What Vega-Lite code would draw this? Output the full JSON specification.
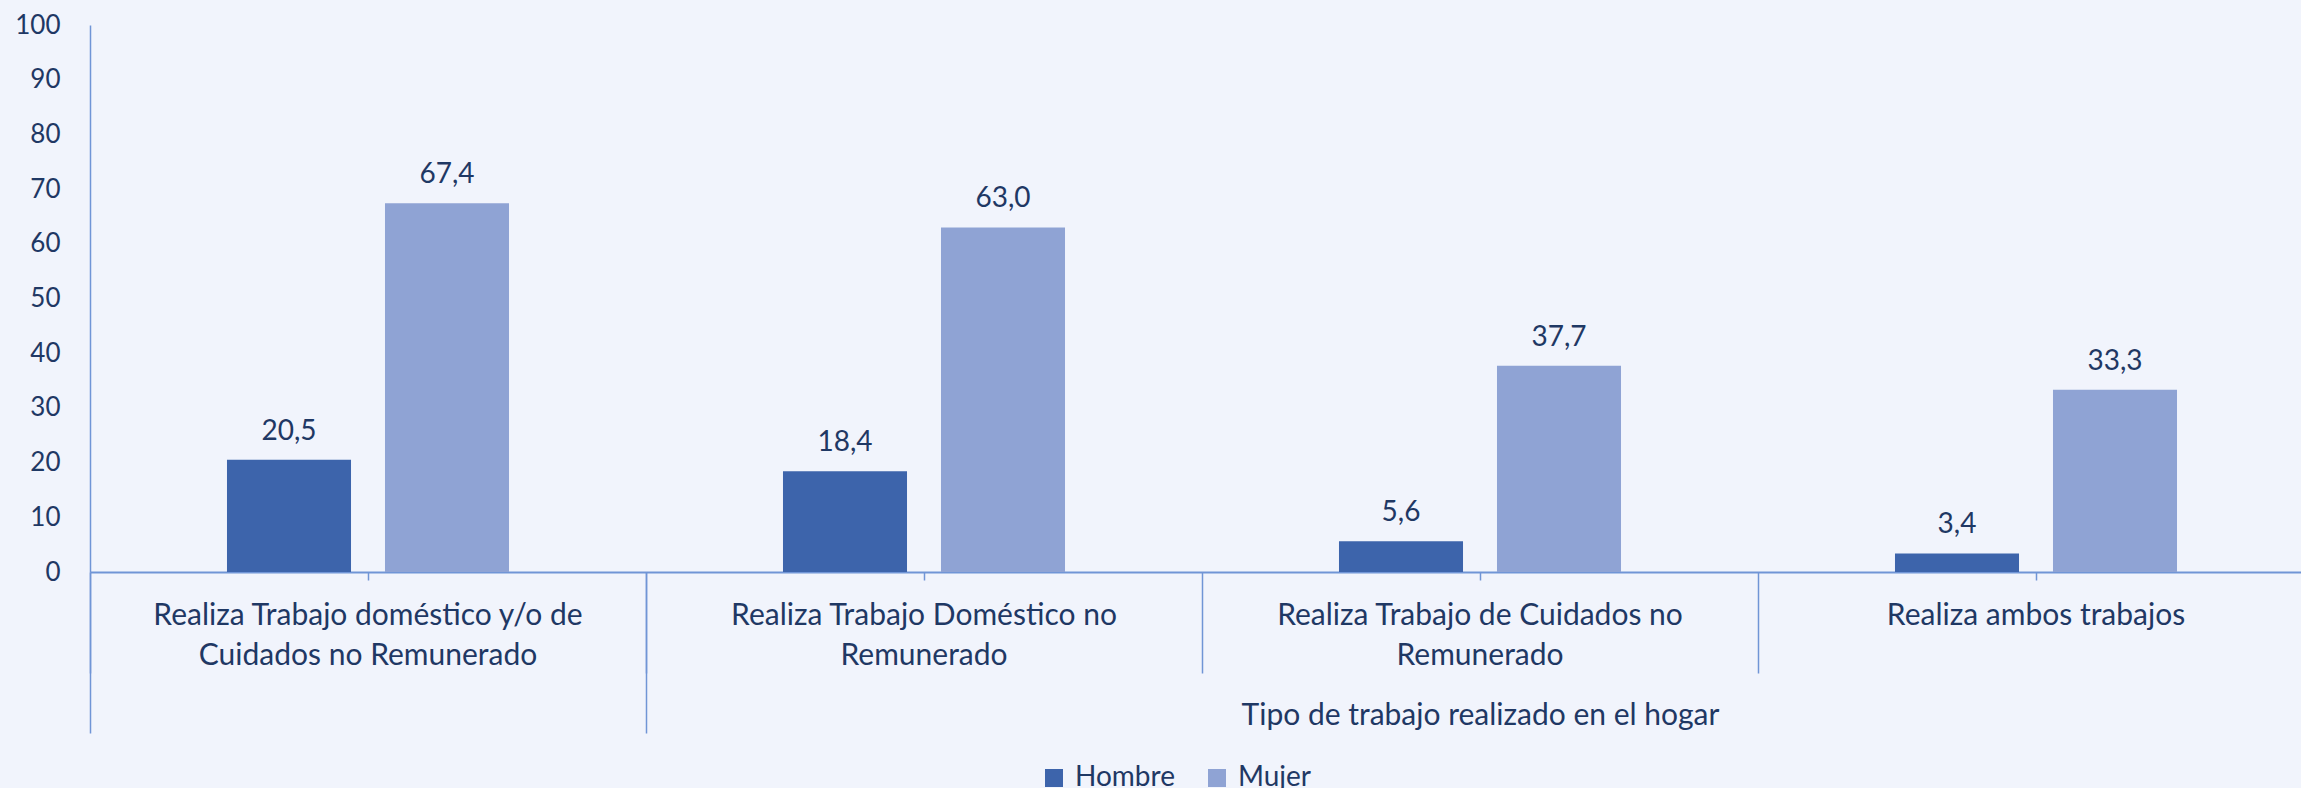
{
  "$schema": "https://vega.github.io/schema/vega-lite/v6.json",
  "width": 2211,
  "height": 547,
  "autosize": {"type": "none"},
  "padding": {"left": 90, "top": 25, "right": 0, "bottom": 216},
  "background": "#F1F4FC",
  "config": {
    "view": {"stroke": null},
    "font": "Lato",
    "locale": {"number": {"decimal": ",", "thousands": ".", "grouping": [3], "currency": ["$", ""]}}
  },
  "data": {
    "values": [
      {"tipo": "Realiza Trabajo doméstico y/o de Cuidados no Remunerado", "sexo": "Hombre", "valor": 20.5},
      {"tipo": "Realiza Trabajo doméstico y/o de Cuidados no Remunerado", "sexo": "Mujer", "valor": 67.4},
      {"tipo": "Realiza Trabajo Doméstico no Remunerado", "sexo": "Hombre", "valor": 18.4},
      {"tipo": "Realiza Trabajo Doméstico no Remunerado", "sexo": "Mujer", "valor": 63.0},
      {"tipo": "Realiza Trabajo de Cuidados no Remunerado", "sexo": "Hombre", "valor": 5.6},
      {"tipo": "Realiza Trabajo de Cuidados no Remunerado", "sexo": "Mujer", "valor": 37.7},
      {"tipo": "Realiza ambos trabajos", "sexo": "Hombre", "valor": 3.4},
      {"tipo": "Realiza ambos trabajos", "sexo": "Mujer", "valor": 33.3}
    ]
  },
  "encoding": {
    "x": {"field": "tipo", "type": "nominal", "sort": null,
      "scale": {"range": [0, 2224], "paddingInner": 0, "paddingOuter": 0}},
    "xOffset": {"field": "sexo", "type": "nominal", "sort": ["Hombre", "Mujer"],
      "scale": {"paddingInner": 0.215, "paddingOuter": 0.867}},
    "y": {"field": "valor", "type": "quantitative",
      "scale": {"domain": [0, 100], "nice": false},
      "axis": {"title": null, "grid": false, "ticks": false, "tickCount": 10,
        "domainColor": "#7095D6", "domainWidth": 1.5,
        "labelFont": "Lato", "labelFontSize": 26, "labelColor": "#1F3864", "labelPadding": 30}}
  },
  "layer": [
    {
      "mark": {"type": "bar"},
      "encoding": {
        "x": {"field": "tipo", "type": "nominal", "sort": null,
          "axis": {"orient": "bottom", "title": null, "domainColor": "#7095D6", "domainWidth": 2,
            "ticks": true, "tickSize": 8, "tickColor": "#7095D6", "tickWidth": 1.5,
            "labelAngle": 0, "labelFont": "Lato", "labelFontSize": 30, "labelColor": "#1F3864",
            "labelLimit": 0, "labelOverlap": false, "labelBound": false,
            "labelBaseline": "top", "labelLineHeight": 40, "labelPadding": 20,
            "labelExpr": "datum.value == 'Realiza Trabajo doméstico y/o de Cuidados no Remunerado' ? ['Realiza Trabajo doméstico y/o de', 'Cuidados no Remunerado'] : datum.value == 'Realiza Trabajo Doméstico no Remunerado' ? ['Realiza Trabajo Doméstico no', 'Remunerado'] : datum.value == 'Realiza Trabajo de Cuidados no Remunerado' ? ['Realiza Trabajo de Cuidados no', 'Remunerado'] : datum.value"}},
        "color": {"field": "sexo", "type": "nominal",
          "scale": {"domain": ["Hombre", "Mujer"], "range": ["#3D64AB", "#8FA3D4"]},
          "legend": {"title": null, "orient": "none", "legendX": 950, "legendY": 739,
            "direction": "horizontal", "symbolType": "square", "symbolSize": 324,
            "symbolStrokeWidth": 0, "labelFont": "Lato", "labelFontSize": 28, "labelColor": "#1F3864",
            "labelOffset": 7, "columnPadding": 28, "padding": 0}}
      }
    },
    {
      "transform": [{"filter": "datum.sexo == 'Hombre'"}],
      "mark": {"type": "text", "baseline": "alphabetic", "dy": -20, "font": "Lato", "fontSize": 28, "color": "#1F3864"},
      "encoding": {
        "x": {"field": "tipo", "type": "nominal", "sort": null,
          "axis": {"orient": "bottom", "title": null, "domain": false, "labels": false,
            "ticks": true, "tickBand": "extent", "tickSize": 101, "tickColor": "#7095D6", "tickWidth": 1.5}},
        "text": {"field": "valor", "type": "quantitative", "format": ".1f"}
      }
    },
    {
      "transform": [{"filter": "datum.sexo == 'Mujer'"}],
      "mark": {"type": "text", "baseline": "alphabetic", "dy": -20, "font": "Lato", "fontSize": 28, "color": "#1F3864"},
      "encoding": {
        "x": {"field": "tipo", "type": "nominal", "sort": null,
          "axis": {"orient": "bottom", "title": "Tipo de trabajo realizado en el hogar", "domain": false, "labels": false,
            "values": ["Realiza Trabajo doméstico y/o de Cuidados no Remunerado"],
            "ticks": true, "tickBand": "extent", "tickSize": 161, "tickColor": "#7095D6", "tickWidth": 1.5,
            "titleX": 1390, "titleY": 143, "titleBaseline": "middle", "titleAlign": "center", "titleAnchor": null,
            "titleFont": "Lato", "titleFontSize": 30, "titleFontWeight": "normal", "titleColor": "#1F3864"}},
        "text": {"field": "valor", "type": "quantitative", "format": ".1f"}
      }
    }
  ],
  "resolve": {"axis": {"x": "independent"}}
}
